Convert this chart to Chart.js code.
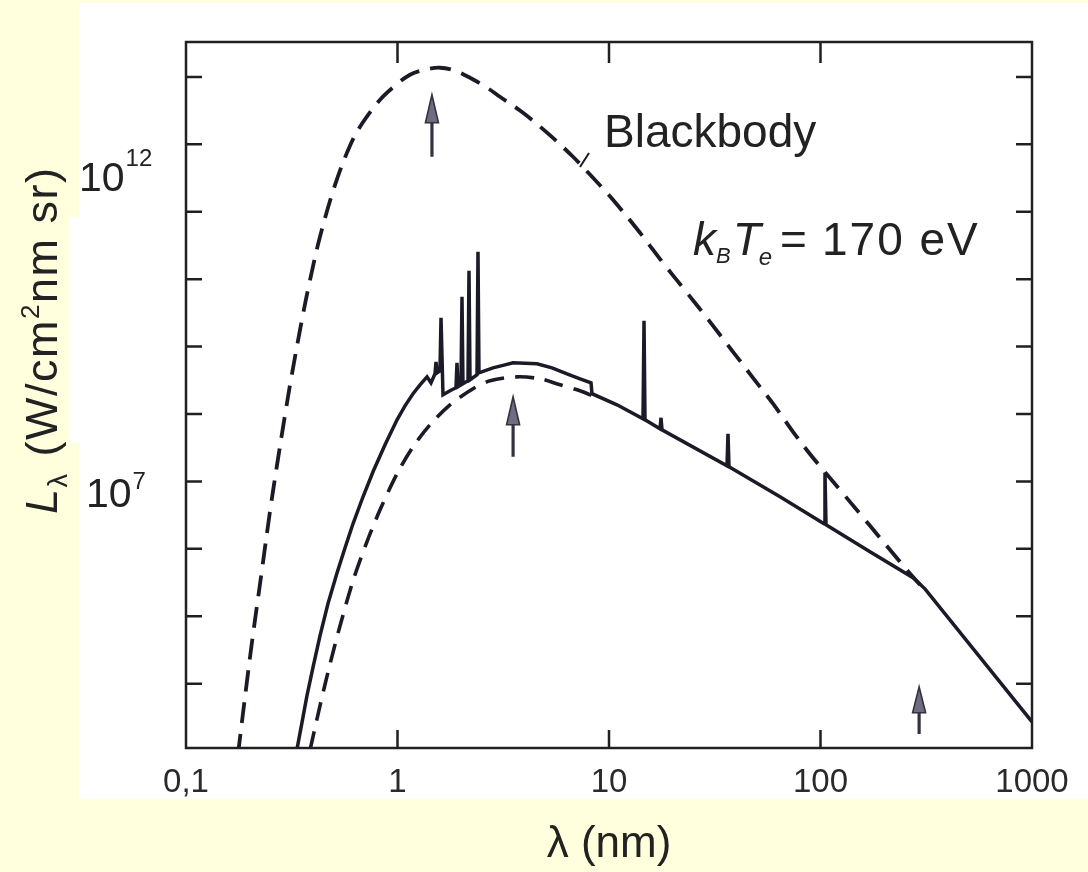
<!DOCTYPE html>
<html>
<head>
<meta charset="utf-8">
<script src="https://cdn.jsdelivr.net/npm/chart.js@4.4.1/dist/chart.umd.min.js"></script>
<style>
  html, body { margin: 0; padding: 0; background: #FFFFDD; }
  #wrap { width: 1088px; height: 872px; position: relative; }
</style>
</head>
<body>
<div id="wrap"><canvas id="c"></canvas></div>
<script>
// ---- axes ----
const xTickValues = [0.1, 1, 10, 100, 1000];
const xTickLabels = ['0,1', '1', '10', '100', '1000'];
const yTickValues = [1e4, 1e5, 1e6, 1e7, 1e8, 1e9, 1e10, 1e11, 1e12, 1e13];
const Y_MIN = 1.11e3;
const Y_MAX = 3.3e13;

// ---- blackbody at k_B T_e = 170 eV (nm, W/cm^2 nm sr) ----
const bbWavelength = [0.176, 0.194, 0.207, 0.229, 0.249, 0.269, 0.294, 0.314, 0.354, 0.386,
  0.430, 0.507, 0.596, 0.679, 0.827, 0.973, 1.146, 1.349, 1.588, 1.870,
  2.202, 2.650, 3.051, 3.921, 5.093, 6.757, 8.40, 10.44, 14.02, 18.0,
  23.38, 30.03, 38.58, 47.97, 59.63, 74.13, 92.15, 123.6, 153.8, 191.1,
  237.7, 295.3];
const bbRadiance = [8.79e2, 1.06e4, 5.12e4, 5.05e5, 3.42e6, 1.70e7, 9.72e7, 3.33e8, 2.58e9, 9.79e9,
  4.26e10, 2.52e11, 9.53e11, 2.02e12, 4.59e12, 7.40e12, 1.08e13, 1.28e13, 1.37e13, 1.24e13,
  9.73e12, 6.92e12, 5.08e12, 2.94e12, 1.49e12, 6.55e11, 3.19e11, 1.51e11, 4.88e10, 1.75e10,
  6.28e9, 2.33e9, 8.37e8, 3.44e8, 1.42e8, 5.45e7, 2.24e7, 7.50e6, 3.30e6, 1.46e6,
  6.41e5, 2.92e5];

// ---- lower dashed continuum ----
const lowerWavelength = [0.386, 0.430, 0.480, 0.535, 0.616, 0.717, 0.827, 0.995, 1.184, 1.425,
  1.771, 2.275, 2.738, 3.673, 4.719, 5.867, 7.294, 8.587];
const lowerRadiance = [1.04e3, 4.69e3, 1.97e4, 7.21e4, 3.35e5, 1.27e6, 3.79e6, 1.30e7, 3.26e7, 6.92e7,
  1.37e8, 2.37e8, 3.11e8, 3.56e8, 3.33e8, 2.71e8, 2.21e8, 1.80e8];

// ---- computed plasma spectrum with lines and edges ----
const specWavelength = [0.335, 0.354, 0.373, 0.399, 0.430, 0.469, 0.518, 0.565, 0.616, 0.687,
  0.766, 0.873, 0.995, 1.085, 1.184, 1.278, 1.379, 1.440, 1.504, 1.521,
  1.538, 1.588, 1.606, 1.641, 1.771, 1.890, 1.911, 1.932, 1.996, 2.018,
  2.040, 2.154, 2.178, 2.202, 2.376, 2.402, 2.428, 2.828, 3.154, 3.516,
  4.566, 5.377, 6.330, 7.294, 8.221, 8.311, 10.91, 14.48, 14.64, 14.80,
  17.42, 17.62, 17.81, 36.14, 36.53, 36.93, 64.37, 103.9, 105.0, 106.2,
  171.4, 273.8, 311.9, 1000];
const specRadiance = [1.08e3, 2.71e3, 6.59e3, 1.77e4, 5.12e4, 1.53e5, 4.41e5, 1.04e6, 2.35e6, 5.92e6,
  1.39e7, 3.49e7, 8.20e7, 1.32e8, 2.00e8, 2.71e8, 3.56e8, 2.90e8, 3.95e8, 5.95e8,
  4.08e8, 4.38e8, 2.67e9, 1.93e8, 2.21e8, 2.45e8, 5.75e8, 2.54e8, 2.71e8, 5.48e9,
  2.81e8, 3.11e8, 1.33e10, 3.21e8, 3.82e8, 2.55e10, 4.08e8, 4.84e8, 5.27e8, 5.75e8,
  5.56e8, 4.84e8, 3.95e8, 3.33e8, 2.90e8, 2.00e8, 1.37e8, 8.49e7, 2.41e9, 8.20e7,
  6.03e7, 8.79e7, 5.83e7, 1.70e7, 5.08e7, 1.65e7, 5.92e6, 2.35e6, 1.34e7, 2.27e6,
  9.02e5, 3.72e5, 2.55e5, 2.71e3];

// ---- arrows marking spectral peaks (tip and tail values) ----
const arrowWavelength = [1.455, 3.52, 292.6];
const arrowTip = [5.44e12, 1.80e8, 8.97e3];
const arrowTail = [6.55e11, 2.32e7, 1.79e3];

const INK = '#1b1b28';
const FONT = "'Liberation Sans', Arial, Helvetica, sans-serif";

const toPoints = (xs, ys) => xs.map((x, i) => ({ x: x, y: ys[i] }));

// Page background: yellow slide with the white figure panel
const panelPlugin = {
  id: 'panel',
  beforeDraw(chart) {
    const ctx = chart.ctx;
    ctx.save();
    ctx.fillStyle = '#FFFFDD';
    ctx.fillRect(0, 0, chart.width, chart.height);
    ctx.fillStyle = '#FFFFFF';
    ctx.fillRect(79, 3, chart.width - 79, 796);
    ctx.fillRect(70, 217, 10, 226);
    ctx.restore();
  }
};

// Frame with inward decade ticks on all four sides
const framePlugin = {
  id: 'frame',
  afterDatasetsDraw(chart) {
    const ctx = chart.ctx;
    const a = chart.chartArea;
    const xs = chart.scales.x, ys = chart.scales.y;
    ctx.save();
    ctx.strokeStyle = '#202020';
    ctx.lineWidth = 2.5;
    ctx.lineCap = 'butt';
    ctx.strokeRect(a.left, a.top, a.right - a.left, a.bottom - a.top);
    ctx.beginPath();
    yTickValues.forEach(v => {
      const py = ys.getPixelForValue(v);
      ctx.moveTo(a.left, py); ctx.lineTo(a.left + 16, py);
      ctx.moveTo(a.right, py); ctx.lineTo(a.right - 16, py);
    });
    xTickValues.slice(1, -1).forEach(v => {
      const px = xs.getPixelForValue(v);
      ctx.moveTo(px, a.bottom); ctx.lineTo(px, a.bottom - 18);
      ctx.moveTo(px, a.top); ctx.lineTo(px, a.top + 21);
    });
    ctx.stroke();
    ctx.restore();
  }
};

function drawRuns(ctx, x, y, runs) {
  let cx = x;
  runs.forEach(r => {
    ctx.font = r.font;
    ctx.fillText(r.text, cx + (r.dx || 0), y + (r.dy || 0));
    cx += ctx.measureText(r.text).width + (r.dx || 0);
  });
}

// Labels, annotations and arrows
const textPlugin = {
  id: 'texts',
  afterDraw(chart) {
    const ctx = chart.ctx;
    const xs = chart.scales.x, ys = chart.scales.y;
    ctx.save();
    ctx.fillStyle = '#222222';
    ctx.textBaseline = 'alphabetic';
    ctx.textAlign = 'left';

    // y tick labels with superscript exponents
    const p12 = ys.getPixelForValue(1e12);
    drawRuns(ctx, 79, p12 + 47, [
      { text: '10', font: `41px ${FONT}` },
      { text: '12', font: `24px ${FONT}`, dy: -25, dx: 1 }
    ]);
    const p7 = ys.getPixelForValue(1e7);
    drawRuns(ctx, 86, p7 + 26, [
      { text: '10', font: `41px ${FONT}` },
      { text: '7', font: `24px ${FONT}`, dy: -18, dx: 1 }
    ]);

    // y axis title, rotated
    ctx.save();
    ctx.translate(57, 514);
    ctx.rotate(-Math.PI / 2);
    ctx.letterSpacing = '1.5px';
    drawRuns(ctx, 0, 0, [
      { text: 'L', font: `italic 45px ${FONT}` },
      { text: 'λ', font: `27px ${FONT}`, dy: 10 },
      { text: ' (W/cm', font: `45px ${FONT}`, dx: 2 },
      { text: '2', font: `26px ${FONT}`, dy: -18 },
      { text: 'nm sr)', font: `45px ${FONT}` }
    ]);
    ctx.letterSpacing = '0px';
    ctx.restore();

    // curve annotations
    ctx.font = `46px ${FONT}`;
    ctx.fillText('Blackbody', 604, 147);
    ctx.strokeStyle = INK;
    ctx.lineWidth = 2;
    ctx.beginPath();
    ctx.moveTo(589, 153); ctx.lineTo(580, 167);
    ctx.stroke();

    drawRuns(ctx, 693, 255, [
      { text: 'k', font: `italic 46px ${FONT}` },
      { text: 'B', font: `italic 22px ${FONT}`, dy: 8 },
      { text: 'T', font: `italic 46px ${FONT}`, dx: 2 },
      { text: 'e', font: `italic 24px ${FONT}`, dy: 10, dx: -2 }
    ]);
    ctx.font = `46px ${FONT}`;
    ctx.fillText('=', 780, 255);
    ctx.letterSpacing = '2px';
    ctx.fillText('170 eV', 822, 255);
    ctx.letterSpacing = '0px';

    // arrows
    arrowWavelength.forEach((w, i) => {
      const px = xs.getPixelForValue(w);
      const tip = ys.getPixelForValue(arrowTip[i]);
      const tail = ys.getPixelForValue(arrowTail[i]);
      const head = Math.min(28, (tail - tip) * 0.55);
      ctx.strokeStyle = '#34323f';
      ctx.lineWidth = 3.2;
      ctx.beginPath();
      ctx.moveTo(px, tail); ctx.lineTo(px, tip + head - 2);
      ctx.stroke();
      ctx.fillStyle = '#6f6b80';
      ctx.lineWidth = 1.6;
      ctx.beginPath();
      ctx.moveTo(px, tip);
      ctx.lineTo(px - 6.5, tip + head);
      ctx.lineTo(px + 6.5, tip + head);
      ctx.closePath();
      ctx.fill();
      ctx.stroke();
    });
    ctx.restore();
  }
};

const lineBase = {
  borderColor: INK,
  pointRadius: 0,
  pointHoverRadius: 0,
  fill: false
};

new Chart(document.getElementById('c'), {
  type: 'line',
  data: {
    datasets: [
      Object.assign({}, lineBase, {
        label: 'Blackbody',
        data: toPoints(bbWavelength, bbRadiance),
        borderWidth: 3.8,
        borderDash: [21, 11],
        tension: 0.35
      }),
      Object.assign({}, lineBase, {
        label: 'Continuum',
        data: toPoints(lowerWavelength, lowerRadiance),
        borderWidth: 3.6,
        borderDash: [19, 11],
        tension: 0.3
      }),
      Object.assign({}, lineBase, {
        label: 'Spectrum',
        data: toPoints(specWavelength, specRadiance),
        borderWidth: 3.5,
        tension: 0,
        borderJoinStyle: 'miter'
      })
    ]
  },
  options: {
    responsive: true,
    maintainAspectRatio: false,
    devicePixelRatio: 1,
    animation: false,
    events: [],
    layout: { padding: { top: 42, right: 56, left: 0, bottom: 0 } },
    plugins: {
      legend: { display: false },
      tooltip: { enabled: false }
    },
    scales: {
      x: {
        type: 'logarithmic',
        position: 'bottom',
        min: xTickValues[0],
        max: xTickValues[xTickValues.length - 1],
        afterBuildTicks(scale) {
          scale.ticks = xTickValues.map(v => ({ value: v }));
        },
        afterFit(scale) { scale.height = 124; },
        grid: { display: false, drawTicks: false },
        border: { display: false },
        ticks: {
          autoSkip: false,
          maxRotation: 0,
          padding: 15,
          color: '#2a2a2a',
          font: { family: FONT, size: 33 },
          callback: (v, i) => xTickLabels[i]
        },
        title: {
          display: true,
          text: 'λ (nm)',
          color: '#222222',
          font: { family: FONT, size: 44 },
          padding: { top: 0, bottom: 1 }
        }
      },
      y: {
        type: 'logarithmic',
        min: Y_MIN,
        max: Y_MAX,
        afterBuildTicks(scale) {
          scale.ticks = yTickValues.map(v => ({ value: v }));
        },
        afterFit(scale) { scale.width = 186; },
        grid: { display: false, drawTicks: false },
        border: { display: false },
        ticks: { display: false }
      }
    }
  },
  plugins: [panelPlugin, framePlugin, textPlugin]
});
</script>
</body>
</html>
